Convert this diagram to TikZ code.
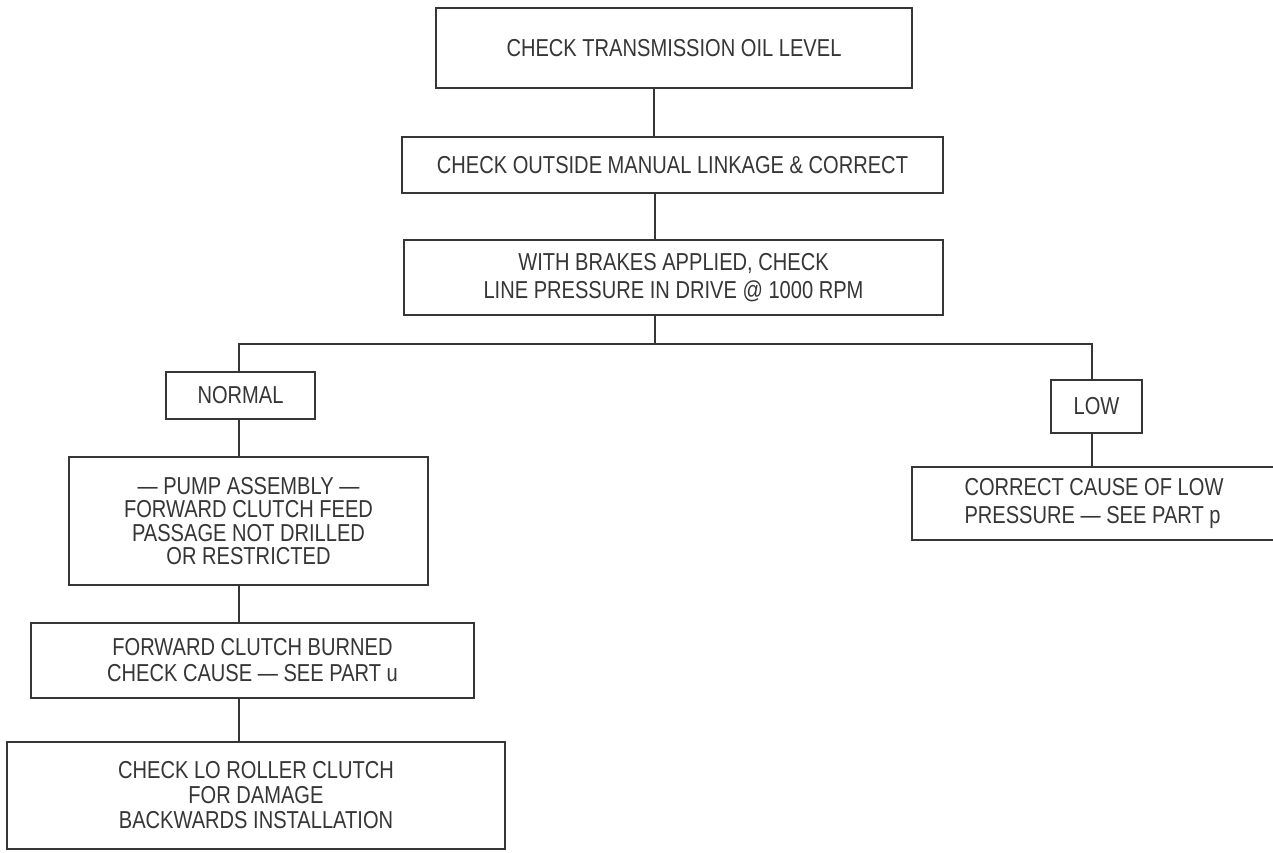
\documentclass[tikz,border=0pt]{standalone}
\usepackage{fontspec}
\setmainfont[FakeStretch=0.82]{Liberation Sans}
\definecolor{ink}{HTML}{363636}
\begin{document}
\begin{tikzpicture}[x=1pt,y=-1pt,
  box/.style={draw=ink, line width=2.4pt, inner sep=0pt, outer sep=0pt, text=ink,
    font=\fontsize{24.5}{28}\selectfont, align=center},
  conn/.style={draw=ink, line width=2.4pt}]
\useasboundingbox (0,0) rectangle (1273,852);
\fill[white] (0,0) rectangle (1273,852);

\node[box, minimum width=476pt, minimum height=80pt] (b1) at (674,48) {CHECK TRANSMISSION OIL LEVEL};
\node[box, minimum width=541pt, minimum height=56pt] (b2) at (672.5,165) {CHECK OUTSIDE MANUAL LINKAGE \& CORRECT};
\node[box, minimum width=539pt, minimum height=75pt] (b3) at (673.5,277.5) {WITH BRAKES APPLIED, CHECK\\LINE PRESSURE IN DRIVE @ 1000 RPM};
\node[box, minimum width=149pt, minimum height=47pt] (normal) at (240.5,395.5) {NORMAL};
\node[box, minimum width=359pt, minimum height=128pt, font=\fontsize{24.5}{23.5}\selectfont] (pump) at (248.5,521) {— PUMP ASSEMBLY —\\FORWARD CLUTCH FEED\\PASSAGE NOT DRILLED\\OR RESTRICTED};
\node[box, minimum width=443pt, minimum height=75pt, font=\fontsize{24.5}{26}\selectfont] (fwd) at (252.5,660.5) {FORWARD CLUTCH BURNED\\CHECK CAUSE — SEE PART u};
\node[box, minimum width=498pt, minimum height=107pt, font=\fontsize{24.5}{25}\selectfont] (lo) at (256,795.5) {CHECK LO ROLLER CLUTCH\\FOR DAMAGE\\BACKWARDS INSTALLATION};
\node[box, minimum width=91pt, minimum height=53pt] (low) at (1096.5,406.5) {LOW};
\node[box, minimum width=364pt, minimum height=73pt, align=left] (correct) at (1094,503.5) {CORRECT CAUSE OF LOW\\PRESSURE — SEE PART p};

\coordinate (c1) at (654,0);
\coordinate (c2) at (655,0);
\coordinate (hl) at (239,344);
\coordinate (hm) at (655,344);
\coordinate (hr) at (1092,344);

\draw[conn] (c1 |- b1.south) -- (c1 |- b2.north);
\draw[conn] (c2 |- b2.south) -- (c2 |- b3.north);
\draw[conn] (hm |- b3.south) -- (hm);
\draw[conn] (hl |- normal.north) -- (hl) -- (hr) -- (hr |- low.north);
\draw[conn] (hl |- normal.south) -- (hl |- pump.north);
\draw[conn] (hl |- pump.south) -- (hl |- fwd.north);
\draw[conn] (hl |- fwd.south) -- (hl |- lo.north);
\draw[conn] (hr |- low.south) -- (hr |- correct.north);
\end{tikzpicture}
\end{document}
